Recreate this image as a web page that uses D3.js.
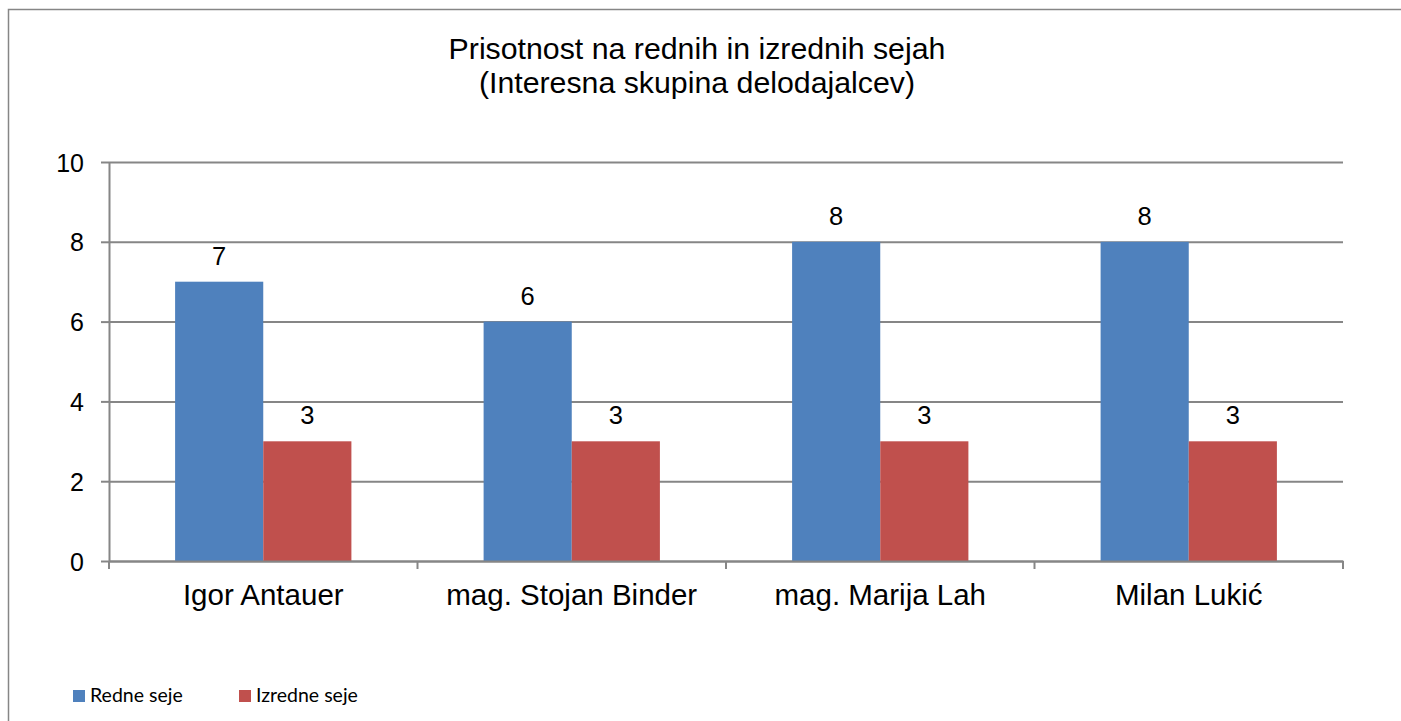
<!DOCTYPE html>
<html>
<head>
<meta charset="utf-8">
<script src="https://cdn.jsdelivr.net/npm/d3@7"></script>
<style>
	body { margin: 0; background: #fff; }
	svg text { font-family: "Liberation Sans", Arial, sans-serif; fill: #000; }
	.legend text { font-family: Lato, "Noto Sans", sans-serif; }
	.grid line, .grid path { stroke: #868686; }
	.axis path, .axis line { stroke: #868686; }
</style>
</head>
<body>
<div id="chartDiv"></div>
<script>
;(function() {

	var categories = ["Igor Antauer", "mag. Stojan Binder", "mag. Marija Lah", "Milan Lukić"];
	var seriesNames = ["Redne seje", "Izredne seje"];
	var redneSeje = [7, 6, 8, 8];
	var izredneSeje = [3, 3, 3, 3];
	var yTicks = [0, 2, 4, 6, 8, 10];
	var titleLines = ["Prisotnost na rednih in izrednih sejah", "(Interesna skupina delodajalcev)"];

	var colors = ["#4f81bd", "#c0504d"];
	var width = 1401;
	var height = 721;
	var plot = { left: 109, right: 1343, top: 162, bottom: 561 };

	var svg = d3.select("#chartDiv").append("svg")
		.attr("width", width)
		.attr("height", height);

	// chart border
	svg.append("rect")
		.attr("x", 8.5)
		.attr("y", 9.5)
		.attr("width", 1420)
		.attr("height", 730)
		.attr("fill", "none")
		.attr("stroke", "#868686")
		.attr("stroke-width", 1.5);

	// title
	svg.append("g").selectAll("text")
		.data(titleLines)
		.enter().append("text")
		.attr("x", 697)
		.attr("y", function(d, i) { return 59 + i * 34; })
		.attr("text-anchor", "middle")
		.style("font-size", "30.3px")
		.text(function(d) { return d; });

	var yScale = d3.scaleLinear()
		.domain([0, 10])
		.range([plot.bottom, plot.top]);

	var x0 = d3.scaleBand()
		.domain(categories)
		.range([plot.left, plot.right])
		.padding(0);

	var x1 = d3.scaleBand()
		.domain(seriesNames)
		.range([0, x0.bandwidth()])
		.paddingInner(0)
		.paddingOuter(0.75);

	// gridlines
	svg.append("g")
		.attr("class", "grid")
		.attr("transform", "translate(" + plot.left + ",0)")
		.call(d3.axisLeft(yScale).tickValues(yTicks).tickSize(-(plot.right - plot.left)).tickFormat(""))
		.call(function(g) { g.select(".domain").remove(); })
		.selectAll("line").attr("stroke-width", 2);

	// y axis with labels
	var yAxisG = svg.append("g")
		.attr("class", "axis")
		.attr("transform", "translate(" + plot.left + ",0)")
		.call(d3.axisLeft(yScale).tickValues(yTicks).tickSizeInner(8).tickSizeOuter(0).tickPadding(17));
	yAxisG.select(".domain").attr("stroke-width", 2);
	yAxisG.selectAll("line").attr("stroke-width", 2);
	yAxisG.selectAll("text").style("font-size", "25px").attr("dy", "0.36em").attr("fill", "#000");

	// bars
	var data = categories.map(function(c, i) {
		return { category: c, values: [redneSeje[i], izredneSeje[i]] };
	});

	var groups = svg.append("g").selectAll(".group")
		.data(data)
		.enter().append("g")
		.attr("class", "group")
		.attr("transform", function(d) { return "translate(" + x0(d.category) + ",0)"; });

	groups.selectAll("rect")
		.data(function(d) { return d.values.map(function(v, j) { return { name: seriesNames[j], value: v, idx: j }; }); })
		.enter().append("rect")
		.attr("x", function(d) { return x1(d.name); })
		.attr("y", function(d) { return yScale(d.value); })
		.attr("width", x1.bandwidth())
		.attr("height", function(d) { return yScale(0) - yScale(d.value); })
		.attr("fill", function(d) { return colors[d.idx]; });

	// data labels
	groups.selectAll(".label")
		.data(function(d) { return d.values.map(function(v, j) { return { name: seriesNames[j], value: v }; }); })
		.enter().append("text")
		.attr("class", "label")
		.attr("x", function(d) { return x1(d.name) + x1.bandwidth() / 2; })
		.attr("y", function(d) { return yScale(d.value) - 17; })
		.attr("text-anchor", "middle")
		.style("font-size", "25.5px")
		.text(function(d) { return d.value; });

	// x axis
	var xAxisG = svg.append("g")
		.attr("class", "axis")
		.attr("transform", "translate(0," + plot.bottom + ")")
		.call(d3.axisBottom(x0).tickSize(0).tickPadding(23).tickSizeOuter(0));
	xAxisG.select(".domain").attr("stroke-width", 2);
	xAxisG.selectAll("text").style("font-size", "29.5px").attr("fill", "#000");

	// category boundary ticks
	var bounds = categories.map(function(c) { return x0(c); }).concat([x0.range()[1]]);
	xAxisG.selectAll(".bound")
		.data(bounds)
		.enter().append("line")
		.attr("class", "bound")
		.attr("x1", function(d) { return d; })
		.attr("x2", function(d) { return d; })
		.attr("y1", 0)
		.attr("y2", 8)
		.attr("stroke", "#868686")
		.attr("stroke-width", 2);

	// legend
	var legendX = [73, 239];
	var legend = svg.append("g").attr("class", "legend")
		.selectAll("g")
		.data(seriesNames)
		.enter().append("g")
		.attr("transform", function(d, i) { return "translate(" + legendX[i] + ",690)"; });

	legend.append("rect")
		.attr("width", 12)
		.attr("height", 12)
		.attr("fill", function(d, i) { return colors[i]; });

	legend.append("text")
		.attr("x", 17)
		.attr("y", 12)
		.style("font-size", "19.5px")
		.text(function(d) { return d; });

})();
</script>
</body>
</html>
